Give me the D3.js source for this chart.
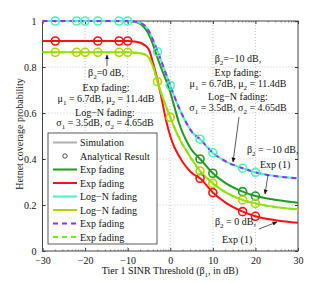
<!DOCTYPE html>
<html>
<head>
<meta charset="utf-8">
<script src="https://cdn.jsdelivr.net/npm/d3@7/dist/d3.min.js"></script>
<style>
  body { margin: 0; background: #fff; }
  svg { font-family: "Liberation Serif", "DejaVu Serif", serif; font-size: 10px; }
</style>
</head>
<body>
<script>
// x grid (tier 1 SINR threshold, dB) shared by all curves
var thresholdDb = [-30, -10, -8, -6, -5, -4, -3, -2, -1, 0, 1, 2, 3, 4, 5, 7, 10, 13, 17, 20, 25, 30];

// curves
var expB2m10  = [1, 1, 0.995, 0.97, 0.94, 0.895, 0.84, 0.79, 0.743, 0.69, 0.625, 0.56, 0.51, 0.472, 0.44, 0.40, 0.338, 0.295, 0.258, 0.239, 0.222, 0.21];
var expB2z    = [0.913, 0.913, 0.91, 0.895, 0.875, 0.815, 0.745, 0.66, 0.57, 0.5, 0.45, 0.415, 0.385, 0.36, 0.34, 0.316, 0.254, 0.21, 0.171, 0.151, 0.133, 0.123];
var logNB2m10 = [1, 1, 0.997, 0.98, 0.955, 0.915, 0.87, 0.82, 0.77, 0.72, 0.67, 0.625, 0.585, 0.55, 0.52, 0.486, 0.427, 0.39, 0.36, 0.342, 0.325, 0.316];
var logNB2z   = [0.864, 0.864, 0.862, 0.855, 0.84, 0.8, 0.736, 0.68, 0.63, 0.581, 0.535, 0.495, 0.46, 0.43, 0.40, 0.348, 0.294, 0.255, 0.222, 0.207, 0.19, 0.181];
var expDashA  = [1, 1, 0.997, 0.98, 0.955, 0.915, 0.87, 0.82, 0.77, 0.72, 0.67, 0.625, 0.585, 0.55, 0.52, 0.486, 0.427, 0.39, 0.36, 0.342, 0.325, 0.316];
var expDashB  = [0.864, 0.864, 0.862, 0.855, 0.84, 0.8, 0.736, 0.68, 0.63, 0.581, 0.535, 0.495, 0.46, 0.43, 0.40, 0.348, 0.294, 0.255, 0.222, 0.207, 0.19, 0.181];

// analytical result markers
var cyanMarkX   = [-27, -22, -20, -17, -12, -10, -3, 0, 7, 10, 17, 20];
var cyanMarkY   = [1, 1, 1, 1, 1, 1, 0.866, 0.72, 0.486, 0.427, 0.36, 0.342];
var yellowMarkX = [-27, -22, -20, -17, -12, -10, -3, 0, 7, 10, 17, 20];
var yellowMarkY = [0.864, 0.864, 0.864, 0.864, 0.864, 0.864, 0.736, 0.581, 0.348, 0.294, 0.222, 0.207];
var redMarkX    = [-27, -17, -12, -10, 7, 10, 17, 20];
var redMarkY    = [0.913, 0.913, 0.913, 0.913, 0.316, 0.254, 0.171, 0.151];
var greenMarkX  = [7, 10, 17, 20];
var greenMarkY  = [0.40, 0.338, 0.258, 0.239];

var xTicks = [-30, -20, -10, 0, 10, 20, 30];
var yTicks = [0, 0.2, 0.4, 0.6, 0.8, 1];
var legendLabels = ["Simulation", "Analytical Result", "Exp fading", "Exp fading", "Log\u2212N fading", "Log\u2212N fading", "Exp fading", "Exp fading"];

var cGreen = "#1f9a1f", cRed = "#ff1010", cCyan = "#48f5c0", cOlive = "#b4d200", cPurple = "#9a2cf5", cLime = "#70f010";

var W = 329, H = 283;
var svg = d3.select("body").append("svg").attr("width", W).attr("height", H);

var x = d3.scaleLinear().domain([-30, 30]).range([42.5, 298]);
var y = d3.scaleLinear().domain([0, 1]).range([251, 21]);

// grid
var grid = svg.append("g").attr("stroke", "#b8b8b8").attr("stroke-dasharray", "1,2").attr("stroke-width", 0.8);
grid.selectAll("line.gx").data(xTicks.slice(1, -1)).enter().append("line")
  .attr("x1", d => x(d)).attr("x2", d => x(d)).attr("y1", y(0)).attr("y2", y(1));
grid.selectAll("line.gy").data(yTicks.slice(1, -1)).enter().append("line")
  .attr("y1", d => y(d)).attr("y2", d => y(d)).attr("x1", x(-30)).attr("x2", x(30));

// axes (ticks inward)
var gb = svg.append("g").attr("transform", "translate(0," + y(0) + ")")
  .call(d3.axisBottom(x).tickValues(xTicks).tickSize(-3).tickPadding(6).tickFormat(d => d < 0 ? "\u2212" + (-d) : d));
var gt = svg.append("g").attr("transform", "translate(0," + y(1) + ")")
  .call(d3.axisTop(x).tickValues(xTicks).tickSize(-3).tickFormat(""));
var gl = svg.append("g").attr("transform", "translate(" + x(-30) + ",0)")
  .call(d3.axisLeft(y).tickValues(yTicks).tickSize(-3).tickPadding(6).tickFormat(d => d));
var gr = svg.append("g").attr("transform", "translate(" + x(30) + ",0)")
  .call(d3.axisRight(y).tickValues(yTicks).tickSize(-3).tickFormat(""));
[gb, gt, gl, gr].forEach(function (g) {
  g.select(".domain").remove();
  g.selectAll("line").attr("stroke", "#333");
  g.selectAll("text").attr("font-family", "Liberation Serif").attr("font-size", 10).attr("fill", "#111");
});

// minor ticks (dB style) on top and bottom
var minor = [];
xTicks.slice(0, -1).forEach(function (t) {
  [2, 3, 4, 5, 6, 7, 8, 9].forEach(function (k) { minor.push(t + 10 * Math.log10(k)); });
});
svg.append("g").attr("stroke", "#333").attr("stroke-width", 0.6).selectAll("line").data(minor).enter().append("line")
  .attr("x1", d => x(d)).attr("x2", d => x(d)).attr("y1", y(0)).attr("y2", y(0) - 1.5);
svg.append("g").attr("stroke", "#333").attr("stroke-width", 0.6).selectAll("line").data(minor).enter().append("line")
  .attr("x1", d => x(d)).attr("x2", d => x(d)).attr("y1", y(1)).attr("y2", y(1) + 1.5);

// frame
svg.append("rect").attr("x", x(-30)).attr("y", y(1)).attr("width", x(30) - x(-30)).attr("height", y(0) - y(1))
  .attr("fill", "none").attr("stroke", "#444").attr("stroke-width", 1);

// curves
var line = d3.line().x(d => x(d[0])).y(d => y(d[1])).curve(d3.curveMonotoneX);
function curve(vals, color, dash) {
  svg.append("path").datum(thresholdDb.map((t, i) => [t, vals[i]]))
    .attr("d", line).attr("fill", "none").attr("stroke", color).attr("stroke-width", 2)
    .attr("stroke-dasharray", dash || null);
}
curve(expB2m10, cGreen);
curve(expB2z, cRed);
curve(logNB2z, cOlive);
curve(logNB2m10, cCyan);
curve(expDashA, cPurple, "5,4");
curve(expDashB, cLime, "5,4");

function markers(xs, ys, color) {
  svg.append("g").selectAll("circle").data(xs.map((v, i) => [v, ys[i]])).enter().append("circle")
    .attr("cx", d => x(d[0])).attr("cy", d => y(d[1])).attr("r", 4)
    .attr("fill", "none").attr("stroke", color).attr("stroke-width", 1.6);
}
markers(redMarkX, redMarkY, cRed);
markers(greenMarkX, greenMarkY, cGreen);
markers(yellowMarkX, yellowMarkY, cOlive);
markers(cyanMarkX, cyanMarkY, cCyan);

// rich text with subscripts: parts = strings or {sub: "1"}
function rich(xp, yp, parts, anchor) {
  var t = svg.append("text").attr("x", xp).attr("y", yp).attr("text-anchor", anchor || "middle").attr("fill", "#111");
  var shifted = false;
  parts.forEach(function (p) {
    if (typeof p === "string") {
      t.append("tspan").attr("dy", shifted ? -2.5 : null).text(p);
      shifted = false;
    } else {
      t.append("tspan").attr("dy", 2.5).attr("font-size", 7).text(p.sub);
      shifted = true;
    }
  });
  return t;
}

// left annotation
rich(106, 76, ["\u03b2", {sub: "2"}, "=0 dB,"]);
rich(106, 91, ["Exp fading:"]);
rich(106, 102, ["\u03bc", {sub: "1"}, " = 6.7dB, \u03bc", {sub: "2"}, " = 11.4dB"]);
rich(105, 116, ["Log\u2212N fading:"]);
rich(105, 126, ["\u03c3", {sub: "1"}, " = 3.5dB, \u03c3", {sub: "2"}, " = 4.65dB"]);

// right annotation
rich(238, 62, ["\u03b2", {sub: "2"}, "=\u221210 dB,"]);
rich(238, 76, ["Exp fading:"]);
rich(238, 87, ["\u03bc", {sub: "1"}, " = 6.7dB, \u03bc", {sub: "2"}, " = 11.4dB"]);
rich(238, 100, ["Log\u2212N fading:"]);
rich(238, 111, ["\u03c3", {sub: "1"}, " = 3.5dB, \u03c3", {sub: "2"}, " = 4.65dB"]);

rich(247, 153, ["\u03b2", {sub: "2"}, " = \u221210 dB,"], "start");
rich(260, 168, ["Exp (1)"], "start");
rich(215, 225, ["\u03b2", {sub: "2"}, " = 0 dB,"], "start");
rich(222, 243, ["Exp (1)"], "start");

// arrows
var defs = svg.append("defs");
defs.append("marker").attr("id", "ah").attr("viewBox", "0 0 10 10").attr("refX", 9).attr("refY", 5)
  .attr("markerWidth", 7).attr("markerHeight", 7).attr("orient", "auto")
  .append("path").attr("d", "M0,1 L10,5 L0,9 Z").attr("fill", "#111");
function arrow(x1, y1, x2, y2) {
  svg.append("line").attr("x1", x1).attr("y1", y1).attr("x2", x2).attr("y2", y2)
    .attr("stroke", "#111").attr("stroke-width", 0.7).attr("marker-end", "url(#ah)");
}
arrow(107, 66, 107, 55);
arrow(239, 117, 233, 162);
arrow(268, 175, 265, 194);
arrow(259, 229, 277, 222);

// legend
var lg = svg.append("g");
lg.append("rect").attr("x", 48).attr("y", 133).attr("width", 109).attr("height", 111)
  .attr("fill", "#fff").attr("stroke", "#333").attr("stroke-width", 0.8);
var legStyle = [
  {c: "#b0b0b0", dash: null, kind: "line"},
  {c: "#222", dash: null, kind: "dot"},
  {c: cGreen, dash: null, kind: "line"},
  {c: cRed, dash: null, kind: "line"},
  {c: cCyan, dash: null, kind: "line"},
  {c: cOlive, dash: null, kind: "line"},
  {c: cPurple, dash: "5,4", kind: "line"},
  {c: cLime, dash: "5,4", kind: "line"}
];
legendLabels.forEach(function (lab, i) {
  var yy = 142.5 + i * 13.5;
  var s = legStyle[i];
  if (s.kind === "line") {
    lg.append("line").attr("x1", 53).attr("x2", 77).attr("y1", yy).attr("y2", yy)
      .attr("stroke", s.c).attr("stroke-width", 2).attr("stroke-dasharray", s.dash);
  } else {
    lg.append("circle").attr("cx", 65).attr("cy", yy).attr("r", 2.2).attr("fill", "none").attr("stroke", s.c).attr("stroke-width", 0.8);
  }
  lg.append("text").attr("x", 80).attr("y", yy + 3.5).attr("fill", "#111").text(lab);
});

// axis titles
rich(170, 274, ["Tier 1 SINR Threshold (\u03b2", {sub: "1"}, ", in dB)"]);
svg.append("text").attr("transform", "translate(23,134) rotate(-90)").attr("text-anchor", "middle")
  .attr("fill", "#111").text("Hetnet coverage probability");
</script>
</body>
</html>
